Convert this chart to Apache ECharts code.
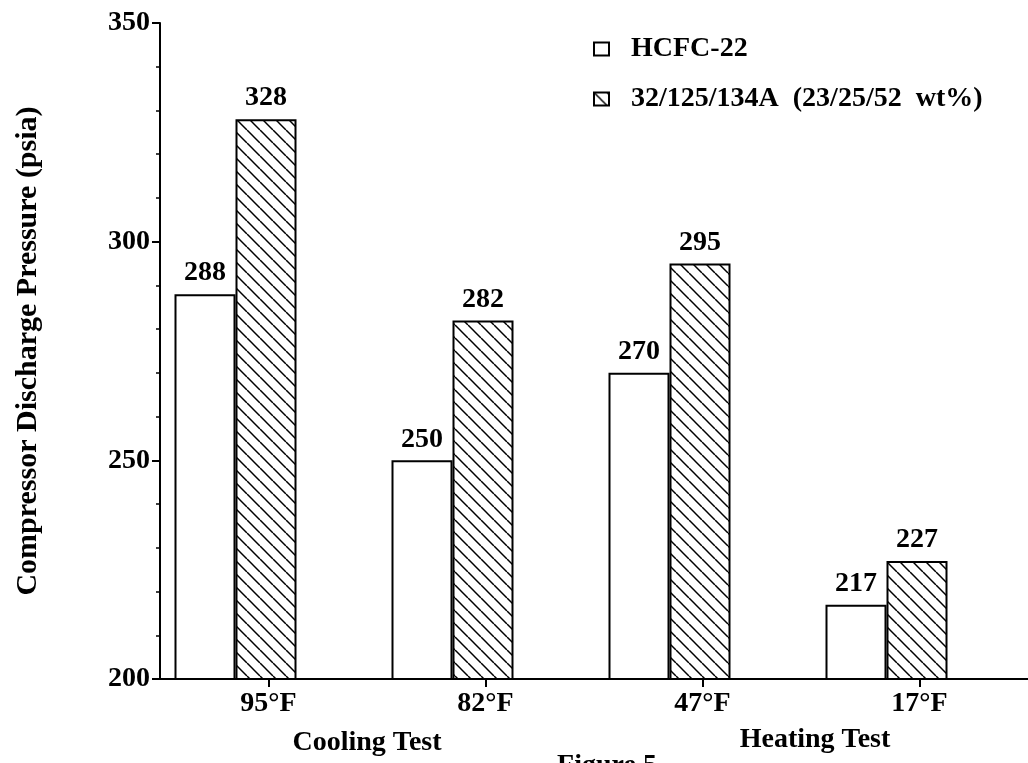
<!DOCTYPE html>
<html>
<head>
<meta charset="utf-8">
<script src="https://cdn.jsdelivr.net/npm/echarts@6/dist/echarts.min.js"></script>
<style>
html,body{margin:0;padding:0;background:#fff;}
#chart{width:1028px;height:763px;}
</style>
</head>
<body>
<div id="chart"></div>
<script>
const categories = ['95°F', '82°F', '47°F', '17°F'];
const seriesNames = ['HCFC-22', '32/125/134A  (23/25/52  wt%)'];
const hcfc22 = [288, 250, 270, 217];
const blend = [328, 282, 295, 227];
const yTicks = [200, 250, 300, 350];
const groupLabels = ['Cooling Test', 'Heating Test'];
const figureCaption = 'Figure 5';
const yTitle = 'Compressor Discharge Pressure (psia)';

const FONT = '"Liberation Serif", "Times New Roman", serif';

// hatch pattern "\\\\"
const s = 13;
const pat = document.createElement('canvas');
pat.width = s; pat.height = s;
const c = pat.getContext('2d');
c.fillStyle = '#fff';
c.fillRect(0, 0, s, s);
c.strokeStyle = '#000';
c.lineWidth = 1.5;
[-s, 0, s].forEach(o => {
  c.beginPath();
  c.moveTo(o, 0);
  c.lineTo(o + s, s);
  c.stroke();
});

const chart = echarts.init(document.getElementById('chart'));

const labelStyle = {
  show: true, position: 'top', distance: 7,
  color: '#000', fontFamily: FONT, fontWeight: 'bold', fontSize: 28
};

const option = {
  backgroundColor: '#fff',
  animation: false,
  legend: {
    orient: 'vertical',
    left: 588, top: 29,
    itemWidth: 15, itemHeight: 13,
    itemGap: 20,
    selectedMode: false,
    icon: 'rect',
    data: seriesNames,
    textStyle: {
      fontFamily: FONT, fontWeight: 'bold', fontSize: 28, color: '#000',
      lineHeight: 30, padding: [0, 0, 0, 17]
    }
  },
  grid: [
    { left: 160, right: 0, top: 23, bottom: 84 },
    { left: 127, right: 33, top: 23, bottom: 84 }
  ],
  xAxis: [
    {
      type: 'category', gridIndex: 0, data: categories, boundaryGap: true,
      axisLine: { show: true, lineStyle: { color: '#000', width: 2 } },
      axisTick: { show: true, alignWithLabel: true, length: 8, lineStyle: { color: '#000', width: 2 } },
      axisLabel: { margin: 11, color: '#000', fontFamily: FONT, fontWeight: 'bold', fontSize: 28 },
      splitLine: { show: false }
    },
    {
      type: 'category', gridIndex: 1, data: categories, boundaryGap: true,
      show: false
    }
  ],
  yAxis: [
    {
      type: 'value', gridIndex: 0, min: yTicks[0], max: yTicks[yTicks.length - 1], interval: 50,
      name: yTitle, nameLocation: 'middle', nameRotate: 90, nameGap: 117,
      nameTextStyle: { color: '#000', fontFamily: FONT, fontWeight: 'bold', fontSize: 30 },
      axisLine: { show: true, lineStyle: { color: '#000', width: 2 } },
      axisTick: { show: true, length: 8, lineStyle: { color: '#000', width: 2 } },
      minorTick: { show: true, splitNumber: 5, length: 4, lineStyle: { color: '#000', width: 1.5 } },
      axisLabel: { margin: 10, color: '#000', fontFamily: FONT, fontWeight: 'bold', fontSize: 28 },
      splitLine: { show: false }
    },
    {
      type: 'value', gridIndex: 1, min: yTicks[0], max: yTicks[yTicks.length - 1], interval: 50,
      show: false, splitLine: { show: false }
    }
  ],
  series: [
    {
      name: seriesNames[0], type: 'bar', xAxisIndex: 1, yAxisIndex: 1,
      data: hcfc22, barWidth: 61, barGap: '0%',
      itemStyle: { color: '#fff', borderColor: '#000', borderWidth: 2 },
      label: labelStyle
    },
    {
      name: seriesNames[1], type: 'bar', xAxisIndex: 1, yAxisIndex: 1,
      data: blend, barWidth: 61, barGap: '0%',
      itemStyle: { color: { image: pat, repeat: 'repeat' }, borderColor: '#000', borderWidth: 2 },
      label: labelStyle
    }
  ],
  graphic: [
    { type: 'text', x: 367, y: 743, style: { text: groupLabels[0], align: 'center', verticalAlign: 'middle',
      fill: '#000', font: 'bold 28px ' + FONT } },
    { type: 'text', x: 815, y: 740, style: { text: groupLabels[1], align: 'center', verticalAlign: 'middle',
      fill: '#000', font: 'bold 28px ' + FONT } },
    { type: 'text', x: 607, y: 752, style: { text: figureCaption, align: 'center', verticalAlign: 'top',
      fill: '#000', font: 'bold 28px ' + FONT } }
  ]
};
chart.setOption(option);
</script>
</body>
</html>
